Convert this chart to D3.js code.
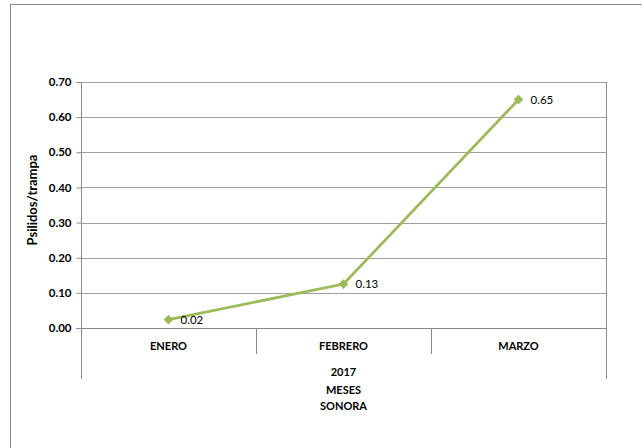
<!DOCTYPE html>
<html>
<head>
<meta charset="utf-8">
<script src="https://cdn.jsdelivr.net/npm/d3@7"></script>
<style>
  body { margin: 0; background: #fff; }
  text { font-family: Lato, "Open Sans", sans-serif; fill: #000; }
</style>
</head>
<body>
<div id="chart"></div>
<script>
var months = ["ENERO", "FEBRERO", "MARZO"];
var values = [0.024, 0.125, 0.65];
var valueLabels = ["0.02", "0.13", "0.65"];
var yTicks = [0, 0.1, 0.2, 0.3, 0.4, 0.5, 0.6, 0.7];
var groupLabel = "2017";
var xTitle = ["MESES", "SONORA"];
var yTitle = "Psilidos/trampa";

var full_width = 642, full_height = 448;
var margin = {top: 82, left: 81, right: 36, bottom: 120};
var width = 606 - margin.left;
var height = 328 - margin.top;

var svg = d3.select("#chart").append("svg")
  .attr("width", full_width)
  .attr("height", full_height);

// outer chart border
svg.append("rect")
  .attr("x", 10.5).attr("y", 4.5)
  .attr("width", 640).attr("height", 450)
  .style("fill", "none")
  .style("stroke", "#888");

var g = svg.append("g")
  .attr("transform", "translate(" + margin.left + "," + margin.top + ")");

var xScale = d3.scaleBand().domain(months).range([0, width]);
var yScale = d3.scaleLinear().domain([0, 0.7]).range([height, 0]);

// gridlines
g.selectAll(".grid")
  .data(yTicks.slice(1))
  .enter().append("line")
  .attr("x1", 0).attr("x2", width)
  .attr("y1", d => Math.round(yScale(d)) + 0.5)
  .attr("y2", d => Math.round(yScale(d)) + 0.5)
  .style("stroke", "#a0a0a0");

// right border of plot
g.append("line")
  .attr("x1", width + 0.5).attr("x2", width + 0.5)
  .attr("y1", 0).attr("y2", height + 51)
  .style("stroke", "#888");

// y axis
var yAxis = g.append("g")
  .attr("transform", "translate(0.5,0)")
  .call(d3.axisLeft(yScale).tickValues(yTicks).tickSize(5).tickPadding(5).tickFormat(d3.format(".2f")));
yAxis.select(".domain").remove();
yAxis.selectAll(".tick line").style("stroke", "#888");
yAxis.selectAll("text").style("font-size", "11.5px").style("font-weight", "bold");
g.append("line")
  .attr("x1", 0.5).attr("x2", 0.5)
  .attr("y1", 0).attr("y2", height + 51)
  .style("stroke", "#888");

// x axis line
g.append("line")
  .attr("x1", -5).attr("x2", width)
  .attr("y1", height + 0.5).attr("y2", height + 0.5)
  .style("stroke", "#888");

// category separators
g.selectAll(".sep")
  .data(months.slice(1))
  .enter().append("line")
  .attr("x1", d => Math.round(xScale(d)) + 0.5)
  .attr("x2", d => Math.round(xScale(d)) + 0.5)
  .attr("y1", height).attr("y2", height + 26)
  .style("stroke", "#888");

// category labels
g.selectAll(".cat")
  .data(months)
  .enter().append("text")
  .attr("x", d => xScale(d) + xScale.bandwidth() / 2)
  .attr("y", height + 22)
  .style("text-anchor", "middle")
  .style("font-size", "11px")
  .style("font-weight", "bold")
  .text(d => d);

g.append("text")
  .attr("x", width / 2)
  .attr("y", height + 48)
  .style("text-anchor", "middle")
  .style("font-size", "11px")
  .style("font-weight", "bold")
  .text(groupLabel);

g.selectAll(".xtitle")
  .data(xTitle)
  .enter().append("text")
  .attr("x", width / 2)
  .attr("y", (d, i) => height + 66 + i * 16)
  .style("text-anchor", "middle")
  .style("font-size", "11px")
  .style("font-weight", "bold")
  .text(d => d);

// y title
g.append("text")
  .attr("transform", "rotate(-90)")
  .attr("x", -height / 2 + 5)
  .attr("y", -44)
  .style("text-anchor", "middle")
  .style("font-size", "13px")
  .style("font-weight", "bold")
  .text(yTitle);

// line
var line = d3.line()
  .x((d, i) => xScale(months[i]) + xScale.bandwidth() / 2)
  .y(d => yScale(d));

g.append("path")
  .attr("d", line(values))
  .style("fill", "none")
  .style("stroke", "#9bbb59")
  .style("stroke-width", 2.75);

g.selectAll(".pt")
  .data(values)
  .enter().append("path")
  .attr("d", d3.symbol().type(d3.symbolDiamond2).size(60))
  .attr("transform", (d, i) => "translate(" + (xScale(months[i]) + xScale.bandwidth() / 2) + "," + yScale(d) + ")")
  .style("fill", "#9bbb59");

g.selectAll(".lbl")
  .data(values)
  .enter().append("text")
  .attr("x", (d, i) => xScale(months[i]) + xScale.bandwidth() / 2 + 12)
  .attr("y", d => yScale(d) + 4)
  .style("font-size", "11.5px")
  .text((d, i) => valueLabels[i]);
</script>
</body>
</html>
